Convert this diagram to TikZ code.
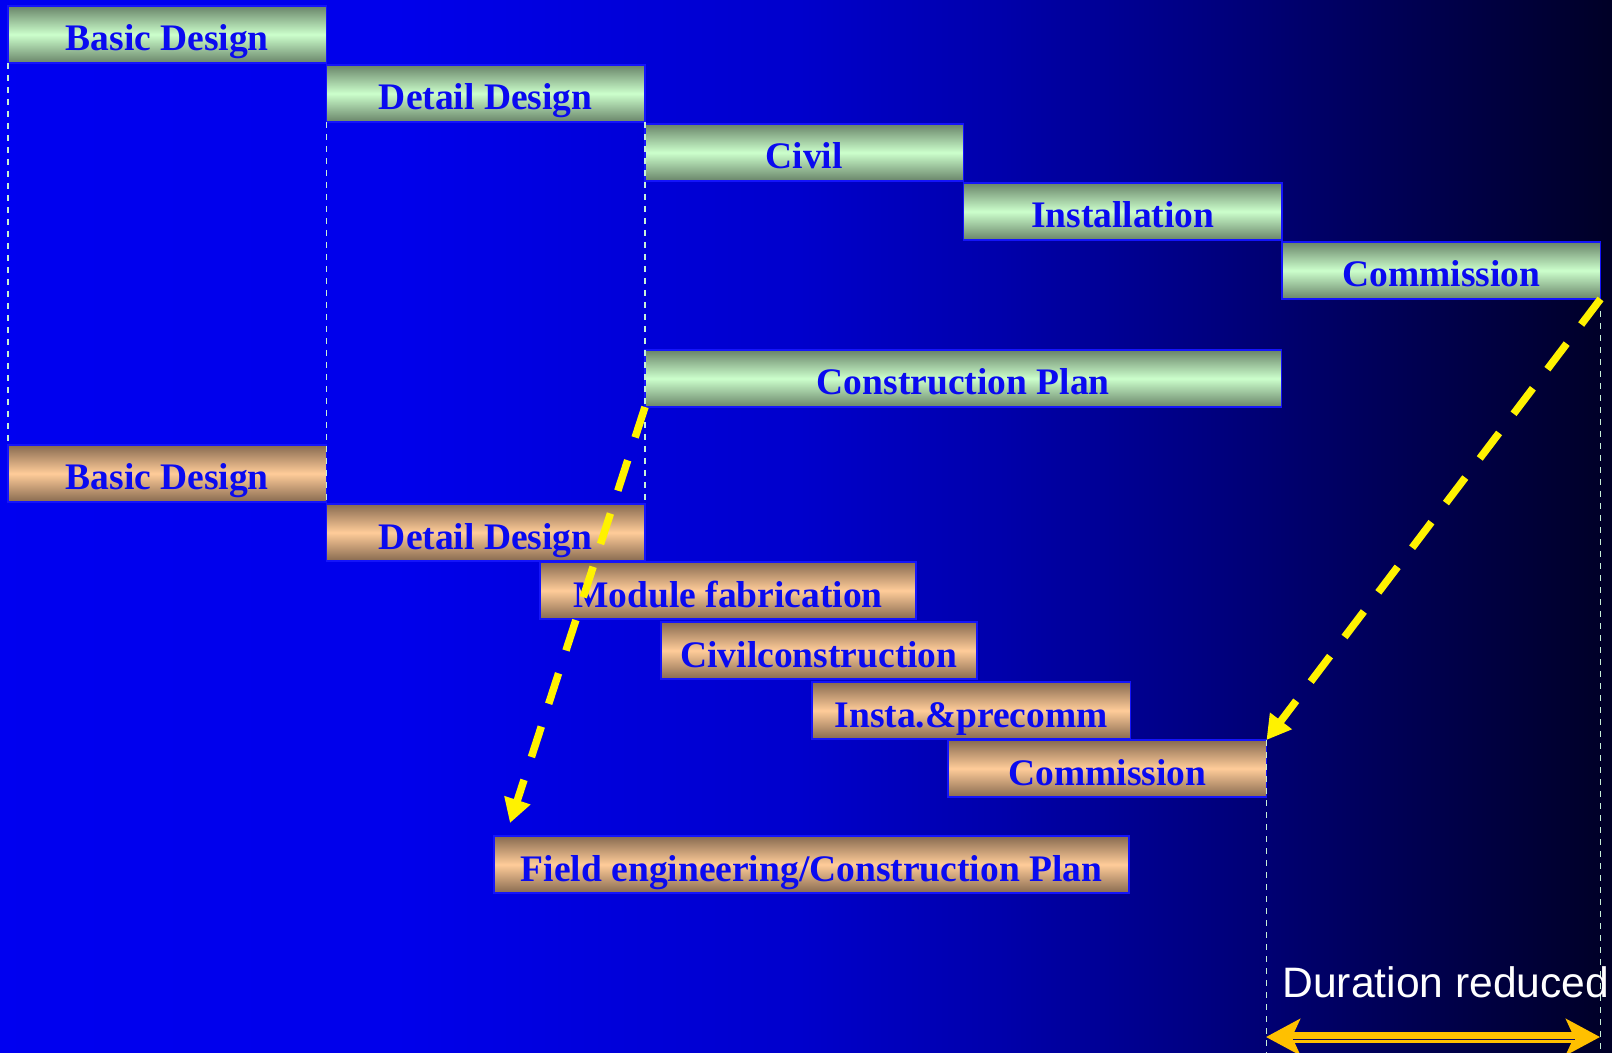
\documentclass[tikz,border=0pt]{standalone}
\usepackage{fontspec}
\setmainfont{Liberation Serif}
\newfontfamily\arialfont{Liberation Sans}
\usetikzlibrary{arrows.meta, positioning}

\definecolor{barblue}{RGB}{20,20,250}
\definecolor{textblue}{RGB}{10,10,240}
\definecolor{mintlight}{RGB}{204,255,204}
\definecolor{mintdark}{RGB}{105,132,105}
\definecolor{peachlight}{RGB}{255,204,153}
\definecolor{peachdark}{RGB}{135,106,80}
\definecolor{guide}{RGB}{200,240,215}
\definecolor{gold}{RGB}{255,192,0}
\definecolor{navy}{RGB}{10,10,100}

\pgfdeclarehorizontalshading{bgshade}{100bp}{rgb(0bp)=(0,0,0.94); rgb(25bp)=(0,0,0.94); rgb(37.4bp)=(0,0,0.92); rgb(49.8bp)=(0,0,0.80); rgb(56bp)=(0,0,0.67); rgb(62.2bp)=(0,0,0.51); rgb(68.4bp)=(0,0,0.33); rgb(75bp)=(0,0,0.15); rgb(100bp)=(0,0,0.15)}

\begin{document}
\begin{tikzpicture}[
    x=0.5pt, y=-0.5pt,
    bar/.style={rectangle, draw=barblue, line width=0.75pt, inner sep=0pt, outer sep=0pt, text height=22.5pt, text depth=6pt, minimum width=159.25pt, font=\bfseries\fontsize{18.75}{20}\selectfont, text=textblue},
    oldbar/.style={bar, top color=mintdark, bottom color=mintdark, middle color=mintlight},
    newbar/.style={bar, top color=peachdark, bottom color=peachdark, middle color=peachlight},
    guideline/.style={guide, line width=0.95pt, dash pattern=on 3pt off 3pt},
    shiftarrow/.style={-{Triangle[length=12pt,width=13pt]}, yellow, line width=3.75pt, dash pattern=on 16pt off 12pt},
    gainarrow/.style={{Stealth[length=17pt,width=18pt,inset=4pt]}-{Stealth[length=17pt,width=18pt,inset=4pt]}, gold, line width=5.5pt},
    durlabel/.style={inner sep=0pt, text=white, font=\arialfont\fontsize{21.3}{24}\selectfont}
  ]
    % Background
    \useasboundingbox (0,0) rectangle (1612,1053);
    \shade[shading=bgshade] (0,0) rectangle (1612,1053);
    \coordinate (bot) at (0,1053);

    % Conventional schedule
    \node[oldbar, anchor=north west] (cbasic) at (8,6) {Basic Design};
    \node[oldbar, below right=1pt and 0pt of cbasic.south east] (cdetail) {Detail Design};
    \node[oldbar, below right=1pt and 0pt of cdetail.south east] (ccivil) {Civil};
    \node[oldbar, below right=1pt and 0pt of ccivil.south east] (cinstall) {Installation};
    \node[oldbar, below right=1pt and 0pt of cinstall.south east] (ccomm) {Commission};
    \node[oldbar, minimum width=318.25pt, below right=84.5pt and 0pt of ccivil.south west] (cplan) {Construction Plan};

    % Modular schedule
    \node[newbar, below=191pt of cbasic] (mbasic) {Basic Design};
    \node[newbar, below right=1pt and 0pt of mbasic.south east] (mdetail) {Detail Design};
    \node[newbar, minimum width=188pt, anchor=north west] (mmodule) at (540,562) {Module fabrication};
    \node[newbar, minimum width=158pt, anchor=north west] (mcivil) at (661,622) {Civilconstruction};
    \node[newbar, anchor=north west] (minsta) at (812,682) {Insta.\&precomm};
    \node[newbar, anchor=north west] (mcomm) at (948,740) {Commission};
    \node[newbar, minimum width=317.5pt, anchor=north west] (mfield) at (494,836) {Field engineering/Construction Plan};

    % Guide lines
    \draw[guideline] (cbasic.south west) -- (mbasic.north west);
    \draw[guideline] (cdetail.south west) -- (mdetail.north west);
    \draw[guideline] (cdetail.south east) -- (mdetail.north east);
    \draw[guideline] (ccomm.south east) -- (ccomm.south east |- bot);
    \draw[guideline] (mcomm.north east) -- (mcomm.north east |- bot);

    % Shift arrows
    \coordinate (tipA) at (510,823);
    \draw[shiftarrow] (cplan.south west) -- (tipA);
    \draw[shiftarrow] (ccomm.south east) -- (mcomm.north east);

    % Duration gain
    \node[durlabel, anchor=base west] (dur) at (1282,997) {Duration reduced};
    \coordinate (durL) at (1266,1037);
    \coordinate (durR) at (1600,1037);
    \draw[gainarrow] (durL) -- (durR);
    \draw[navy, line width=0.65pt, shorten <=13.5pt, shorten >=12.5pt] ([yshift=-1.2pt]durL) -- ([yshift=-1.2pt]durR);
  \end{tikzpicture}
\end{document}
